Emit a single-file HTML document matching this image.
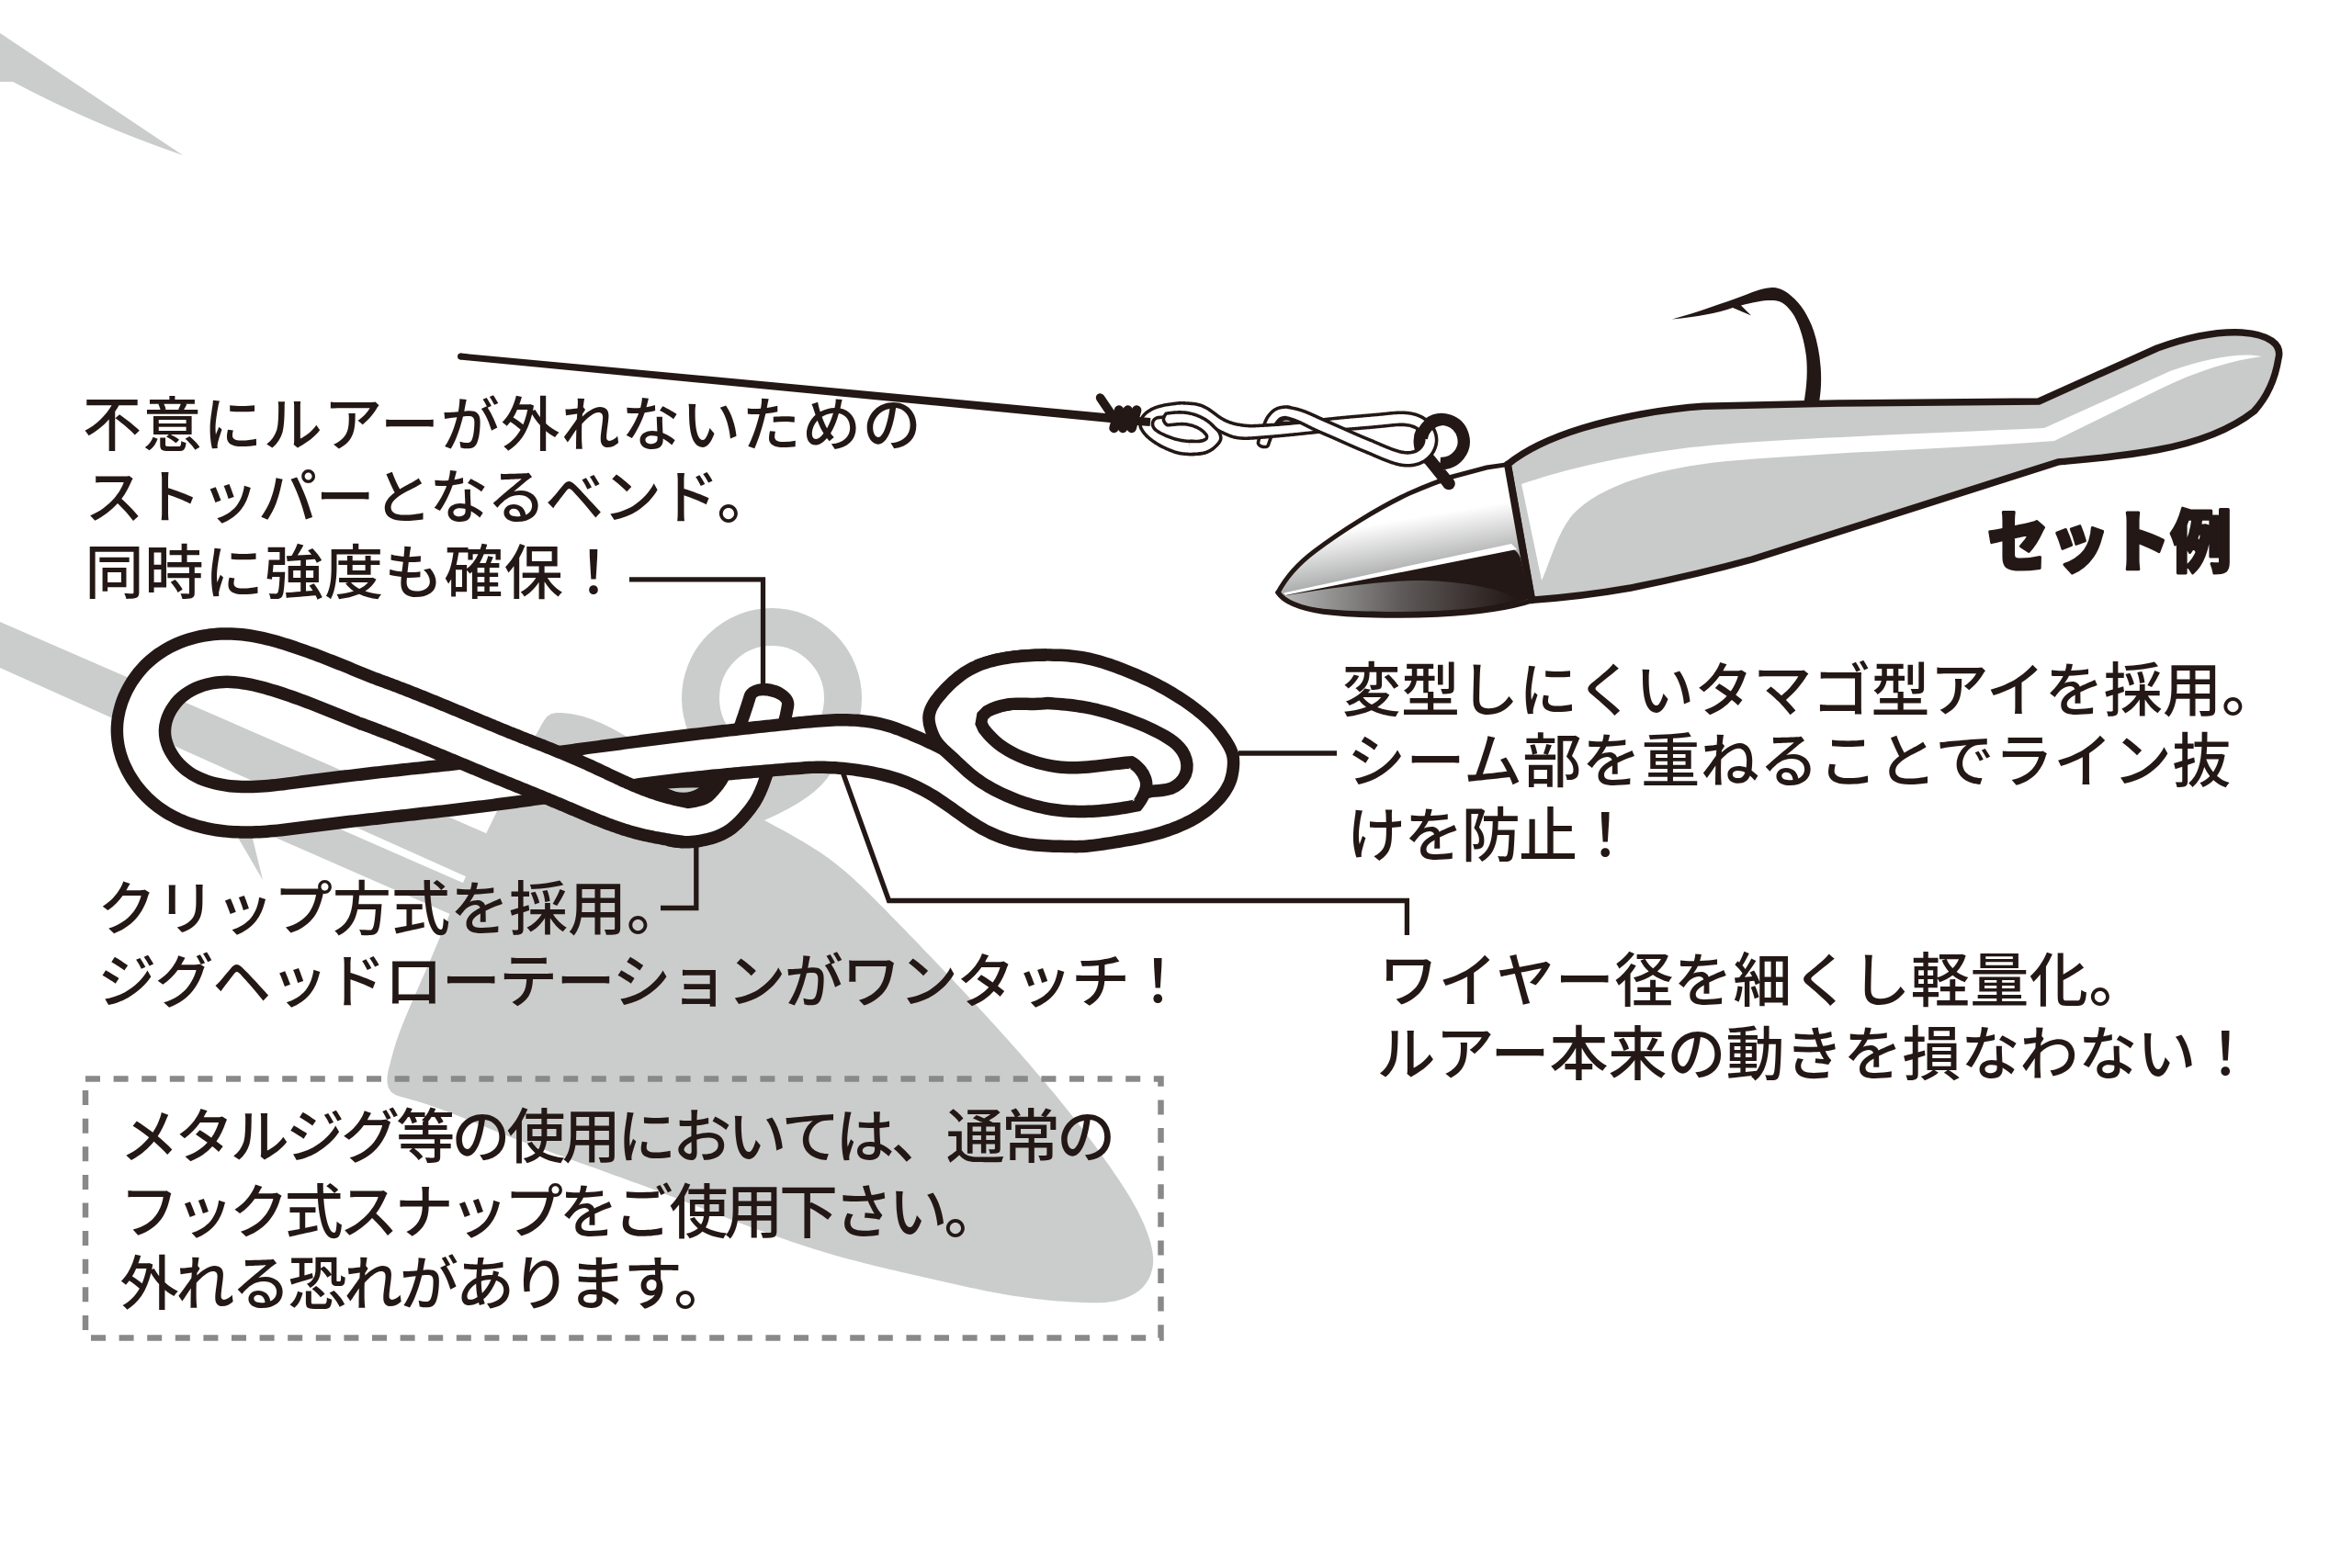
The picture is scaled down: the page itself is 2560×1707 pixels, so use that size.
<!DOCTYPE html>
<html lang="ja"><head><meta charset="utf-8"><title>snap</title><style>html,body{margin:0;padding:0;background:#fff;overflow:hidden}svg{display:block}</style></head><body><svg width="2560" height="1707" viewBox="0 0 2560 1707">
<rect width="2560" height="1707" fill="#fff"/>
<path d="M0 36 L199 169 Q100 135 14 89 L0 89Z" fill="#cbcdcd"/>
<path d="M0 677 L545 914 L520 960 L0 727Z" fill="#cbcdcd"/>
<path d="M250 850 L520 968 L492 996 L250 890Z" fill="#cbcdcd"/>
<path d="M255 905 L273 905 L286 958Z" fill="#cbcdcd"/>
<path d="M611 776L616.9 776.5L622.7 777.3L628.4 778.4L633.9 779.8L639.4 781.4L644.7 783.3L649.9 785.4L655.1 787.6L660.2 790L665.3 792.6L670.3 795.2L675.3 797.9L680.2 800.7L685.1 803.5L690 806.3L694.9 809.1L699.8 812L704.6 814.9L709.5 817.8L714.3 820.7L719.1 823.7L723.9 826.7L728.7 829.6L733.5 832.6L738.3 835.6L743.1 838.6L747.9 841.7L752.7 844.7L757.4 847.7L762.2 850.7L767 853.7L771.8 856.8L776.5 859.8L781.3 862.8L786.1 865.8L790.9 868.7L795.7 871.7L800.6 874.6L805.4 877.5L810.3 880.4L815.2 883.3L820.1 886.1L825 888.9L829.9 891.7L834.9 894.4L839.9 897.2L844.8 899.9L849.8 902.6L854.8 905.3L859.8 908.1L864.7 910.9L869.6 913.7L874.5 916.5L879.3 919.4L884.1 922.4L888.9 925.4L893.6 928.5L898.2 931.7L902.8 935L907.3 938.4L911.7 941.9L916 945.5L920.4 949.1L924.6 952.8L928.8 956.6L933 960.4L937.1 964.3L941.2 968.2L945.3 972.2L949.3 976.2L953.3 980.2L957.3 984.2L961.3 988.3L965.3 992.3L969.3 996.4L973.2 1000.4L977.2 1004.5L981.1 1008.5L985.1 1012.6L989 1016.7L993 1020.7L996.9 1024.8L1000.8 1028.8L1004.7 1032.9L1008.6 1037L1012.5 1041.1L1016.4 1045.1L1020.3 1049.2L1024.2 1053.3L1028.1 1057.4L1032 1061.5L1035.9 1065.6L1039.7 1069.7L1043.6 1073.8L1047.5 1078L1051.3 1082.1L1055.2 1086.2L1059 1090.4L1062.9 1094.5L1066.7 1098.7L1070.5 1102.8L1074.4 1107L1078.2 1111.2L1082 1115.3L1085.8 1119.5L1089.6 1123.7L1093.3 1127.9L1097.1 1132.1L1100.9 1136.4L1104.6 1140.6L1108.4 1144.8L1112.1 1149.1L1115.8 1153.3L1119.6 1157.6L1123.3 1161.9L1126.9 1166.2L1130.6 1170.5L1134.3 1174.8L1137.9 1179.1L1141.5 1183.4L1145.2 1187.8L1148.8 1192.1L1152.3 1196.5L1155.9 1200.9L1159.4 1205.3L1163 1209.7L1166.5 1214.1L1170 1218.6L1173.4 1223L1176.9 1227.5L1180.3 1232L1183.7 1236.5L1187.1 1241L1190.5 1245.6L1193.8 1250.1L1197.1 1254.7L1200.4 1259.3L1203.7 1263.9L1207 1268.5L1210.2 1273.2L1213.4 1277.9L1216.6 1282.5L1219.7 1287.3L1222.8 1292L1225.8 1296.8L1228.8 1301.6L1231.7 1306.5L1234.5 1311.4L1237.2 1316.3L1239.8 1321.4L1242.2 1326.4L1244.6 1331.6L1246.8 1336.8L1248.8 1342.1L1250.6 1347.5L1252.3 1352.9L1253.6 1358.4L1254.6 1364L1255.1 1369.7L1255.1 1375.4L1254.3 1381L1252.8 1386.6L1250.5 1391.9L1247.6 1396.8L1244.1 1401.2L1239.9 1405.1L1235.2 1408.3L1230.1 1411.1L1224.8 1413.3L1219.4 1415.1L1213.9 1416.4L1208.3 1417.3L1202.7 1417.9L1197 1418.2L1191.3 1418.3L1185.6 1418.2L1179.9 1418L1174.2 1417.8L1168.5 1417.5L1162.8 1417.2L1157.2 1416.8L1151.5 1416.4L1145.9 1415.9L1140.3 1415.4L1134.7 1414.8L1129 1414.2L1123.5 1413.6L1117.9 1412.8L1112.3 1412.1L1106.7 1411.3L1101.1 1410.4L1095.6 1409.5L1090 1408.5L1084.5 1407.5L1078.9 1406.4L1073.4 1405.4L1067.8 1404.2L1062.3 1403.1L1056.8 1401.9L1051.2 1400.7L1045.7 1399.5L1040.2 1398.3L1034.7 1397L1029.1 1395.8L1023.6 1394.5L1018.1 1393.2L1012.6 1392L1007 1390.7L1001.5 1389.5L996 1388.2L990.5 1387L985 1385.7L979.4 1384.4L973.9 1383.1L968.4 1381.9L962.9 1380.5L957.4 1379.2L951.9 1377.9L946.4 1376.5L940.9 1375.2L935.5 1373.8L930 1372.3L924.6 1370.9L919.1 1369.4L913.7 1367.9L908.2 1366.4L902.8 1364.8L897.4 1363.2L892 1361.6L886.7 1359.9L881.3 1358.2L875.9 1356.5L870.6 1354.8L865.2 1353L859.9 1351.2L854.6 1349.3L849.3 1347.5L843.9 1345.6L838.6 1343.7L833.3 1341.8L828 1339.8L822.8 1337.9L817.5 1335.9L812.2 1333.9L806.9 1331.9L801.6 1329.9L796.3 1327.9L791.1 1325.8L785.8 1323.8L780.5 1321.7L775.2 1319.7L770 1317.6L764.7 1315.6L759.4 1313.5L754.1 1311.4L748.8 1309.4L743.5 1307.3L738.2 1305.3L732.9 1303.2L727.6 1301.2L722.3 1299.1L717 1297.1L711.7 1295.1L706.3 1293.1L701 1291.1L695.6 1289.1L690.3 1287.2L684.9 1285.2L679.5 1283.3L674.2 1281.3L668.8 1279.4L663.5 1277.4L658.1 1275.5L652.7 1273.6L647.4 1271.6L642 1269.7L636.6 1267.8L631.3 1265.9L626 1263.9L620.6 1262L615.3 1260.1L610 1258.1L604.6 1256.2L599.3 1254.3L594 1252.3L588.8 1250.4L583.5 1248.4L578.2 1246.4L573 1244.4L567.8 1242.5L562.5 1240.5L557.3 1238.5L552.2 1236.4L547 1234.4L541.9 1232.4L536.7 1230.3L531.6 1228.2L526.6 1226.1L521.5 1224.1L516.4 1222L511.3 1219.9L506.2 1217.8L501.1 1215.7L496 1213.7L490.8 1211.7L485.5 1209.7L480.3 1207.7L474.9 1205.8L469.5 1203.9L464.1 1202.1L458.5 1200.3L452.9 1198.6L447.1 1196.9L441.3 1195.3L435.4 1193.8L430 1191.8L425.5 1188.6L422.7 1183.9L421.5 1178.2L421.5 1172.4L422.3 1166.8L423.7 1161.3L425.1 1155.8L426.5 1150.4L428 1144.9L429.6 1139.5L431.3 1134.1L433.1 1128.8L435 1123.4L437 1118.2L439.1 1112.9L441.2 1107.7L443.4 1102.4L445.6 1097.2L447.9 1092L450.2 1086.9L452.4 1081.7L454.7 1076.5L457 1071.3L459.2 1066.1L461.5 1061L463.8 1055.8L466 1050.6L468.3 1045.4L470.5 1040.2L472.7 1035L474.9 1029.8L477.1 1024.6L479.3 1019.4L481.5 1014.2L483.6 1009L485.8 1003.7L488 998.5L490.2 993.3L492.4 988.1L494.5 982.9L496.8 977.7L499 972.5L501.2 967.3L503.5 962.1L505.8 957L508.1 951.8L510.4 946.7L512.8 941.5L515.1 936.4L517.5 931.3L520 926.2L522.4 921.1L524.8 916L527.3 911L529.8 905.9L532.3 900.8L534.8 895.7L537.3 890.6L539.8 885.5L542.3 880.4L544.8 875.3L547.3 870.2L549.8 865.1L552.3 860L554.9 854.9L557.4 849.9L559.9 844.8L562.5 839.8L565 834.8L567.5 829.8L570.1 824.8L572.6 819.9L575.2 815L577.8 810.1L580.5 805.2L583.2 800.2L586 795.2L588.8 790.1L591.8 784.9L595.2 780.3L599.6 777.2L605 776L611 776Z" fill="#cbcdcd"/>
<circle cx="840" cy="760" r="77.5" fill="none" stroke="#cbcdcd" stroke-width="41"/>
<path d="M790 840 L905 840 Q890 868 832 893 L790 880Z" fill="#cbcdcd"/>
<path d="M685 630.8 H830.5 V760" fill="none" stroke="#231815" stroke-width="5.3"/>
<path d="M1348 820 H1455" fill="none" stroke="#231815" stroke-width="5.3"/>
<path d="M917 840 L967.5 980.5 H1531.4 V1018" fill="none" stroke="#231815" stroke-width="5.3"/>
<path d="M757.8 915 V988.5 H719" fill="none" stroke="#231815" stroke-width="5.3"/>
<g id="snap"><path d="M724.9 920.8L726.4 921.2L728.4 921.7L730.3 922L732.2 922.4L734.1 922.7L736 922.9L737.9 923.1L739.7 923.3L741.6 923.4L743.4 923.5L745.2 923.5L747 923.5L748.7 923.5L750.5 923.4L752.2 923.3L753.9 923.2L755.6 923L757.2 922.9L758.8 922.6L760.5 922.4L762 922.2L763.6 921.9L765.2 921.6L766.7 921.3L768.2 921L769.7 920.7L771.1 920.3L772.6 920L774.1 919.6L775.6 919.2L777.2 918.7L778.7 918.2L780.4 917.7L782 917.1L783.7 916.5L785.5 915.8L787.2 915L789 914.2L790.8 913.3L792.6 912.3L794.4 911.3L796.2 910.2L797.9 909.1L799.5 907.9L801.1 906.7L802.5 905.5L804 904.3L805.3 903.1L806.6 901.9L807.9 900.8L809.1 899.6L810.2 898.4L811.3 897.2L812.4 896.1L813.4 895L814.3 893.9L815.3 892.8L816.2 891.8L817 890.7L817.9 889.7L818.8 888.6L819.7 887.5L820.6 886.3L821.5 885.2L822.4 884L823.3 882.7L824.2 881.5L825.2 880.1L826.1 878.8L827 877.4L827.9 876L828.7 874.5L829.6 873L830.4 871.5L831.2 870L831.9 868.6L832.6 867.1L833.3 865.7L833.9 864.2L834.5 862.8L835.1 861.5L835.7 860.1L836.2 858.8L836.7 857.4L837.2 856.2L837.6 854.9L838.1 853.7L838.5 852.4L839 851.3L839.4 850.1L839.8 848.9L840.2 847.7L840.6 846.6L841 845.4L841.4 844.3L841.9 843.1L842.3 842L842.7 840.8L843.1 839.7L843.5 838.6L843.8 837.4L844.2 836.3L844.6 835.2L845 834.1L845.4 832.9L845.8 831.8L846.2 830.7L846.6 829.6L847 828.5L847.3 827.4L847.7 826.3L848.1 825.2L848.5 824.2L848.9 823.1L849.2 822L849.6 820.9L850 819.8L850.4 818.8L850.7 817.7L851.1 816.6L851.5 815.5L851.9 814.4L852.3 813.3L852.6 812.2L853 811L853.4 809.9L853.8 808.8L854.2 807.7L854.5 806.5L854.9 805.4L855.3 804.2L855.7 803.1L856 801.9L856.4 800.7L856.8 799.6L857.1 798.4L857.5 797.2L857.9 796L858.2 794.8L858.6 793.6L858.9 792.4L859.3 791.2L859.6 790L859.9 788.8L860.3 787.5L860.6 786.3L860.9 785L861.2 783.8L861.5 782.5L861.8 781.3L862.1 780L862.4 778.7L862.7 777.4L862.9 776.1L863.2 774.8L863.4 773.5L863.7 772.2L863.9 770.9L864.1 769.7L864.4 767.1L864.2 764.4L863.5 761.8L862.3 759.1L860.6 756.6L858.5 754.2L856 751.9L853.1 749.9L849.9 748.1L846.5 746.6L842.8 745.4L839.1 744.6L835.3 744.1L831.6 744L828 744.2L824.5 744.8L821.2 745.7L818.3 747L815.6 748.6L813.4 750.5L811.6 752.6L810.3 754.9L809.5 757.3L809.2 758.4L808.9 759.3L808.6 760.3L808.3 761.3L808 762.3L807.6 763.3L807.3 764.3L807 765.2L806.7 766.2L806.4 767.2L806 768.2L805.7 769.2L805.4 770.3L805 771.3L804.7 772.3L804.4 773.3L804 774.3L803.7 775.4L803.3 776.4L803 777.4L802.6 778.5L802.3 779.5L801.9 780.6L801.5 781.6L801.2 782.7L800.8 783.8L800.5 784.8L800.1 785.9L799.7 787L799.4 788.1L799 789.1L798.6 790.2L798.3 791.3L797.9 792.4L797.5 793.5L797.2 794.7L796.8 795.8L796.4 796.9L796 798L795.7 799.1L795.3 800.3L794.9 801.4L794.6 802.6L794.2 803.7L793.8 804.9L793.5 806L793.1 807.1L792.8 808.3L792.4 809.4L792.1 810.5L791.7 811.7L791.4 812.8L791 813.9L790.7 815L790.4 816.1L790 817.2L789.7 818.4L789.3 819.5L789 820.5L788.7 821.6L788.3 822.7L788 823.8L787.6 824.9L787.3 826L786.9 827L786.6 828.1L786.3 829.2L785.9 830.2L785.5 831.3L785.2 832.3L784.8 833.4L784.5 834.4L784.1 835.4L783.8 836.3L783.4 837.2L783.1 838.1L782.8 839L782.4 839.8L782.1 840.6L781.8 841.3L781.4 842.1L781.1 842.7L780.8 843.4L780.5 844L780.2 844.6L779.9 845.1L779.6 845.7L779.3 846.2L778.9 846.8L778.5 847.3L778.1 847.9L777.7 848.5L777.3 849.2L776.8 849.8L776.3 850.5L775.7 851.2L775.2 851.9L774.6 852.6L774 853.4L773.3 854.1L772.7 854.9L772 855.7L771.4 856.4L770.8 857.1L770.2 857.7L769.6 858.3L769.1 858.9L768.6 859.4L768.1 859.9L767.6 860.4L767.2 860.8L766.8 861.1L766.4 861.4L766.1 861.7L765.8 861.9L765.5 862.1L765.3 862.3L765.1 862.4L764.9 862.5L764.6 862.7L764.3 862.8L764 863L763.6 863.1L763.1 863.3L762.6 863.5L762.1 863.7L761.4 863.9L760.8 864.1L760 864.3L759.3 864.5L758.5 864.8L757.6 865L756.8 865.2L755.9 865.4L755.1 865.5L754.3 865.7L753.6 865.9L752.8 866L752.1 866.1L751.4 866.2L750.7 866.3L750 866.4L749.3 866.4L748.7 866.5L748.1 866.5L747.5 866.5L746.9 866.5L746.4 866.5L745.8 866.4L745.3 866.4L744.8 866.3L744.4 866.2L743.9 866.1L743.5 866L743 865.9L742.6 865.8L742.3 865.6L741.9 865.5L741.1 865.2Z" fill="#231815"/>
<path d="M728.7 907.9L730 908.2L731.6 908.6L733.2 908.9L734.8 909.1L736.3 909.4L737.9 909.5L739.4 909.7L740.9 909.8L742.4 909.9L744 910L745.5 910L746.9 910L748.4 910L749.9 909.9L751.4 909.8L752.8 909.7L754.2 909.6L755.7 909.4L757.1 909.3L758.5 909.1L759.9 908.9L761.2 908.6L762.6 908.4L763.9 908.1L765.3 907.8L766.6 907.5L767.9 907.2L769.2 906.9L770.6 906.6L771.9 906.2L773.3 905.8L774.6 905.4L776 904.9L777.4 904.4L778.9 903.9L780.3 903.3L781.7 902.7L783.1 902L784.6 901.3L786 900.5L787.5 899.7L788.9 898.8L790.2 897.9L791.5 897L792.8 896.1L794 895.1L795.2 894.1L796.3 893.1L797.4 892.1L798.5 891.1L799.5 890.1L800.5 889.1L801.4 888L802.4 887L803.3 886L804.2 885L805 884L805.9 883L806.7 882.1L807.5 881.1L808.3 880.1L809.2 879L810 878L810.8 877L811.6 875.9L812.4 874.8L813.2 873.7L814 872.5L814.8 871.3L815.6 870.2L816.3 868.9L817.1 867.7L817.8 866.4L818.5 865.1L819.2 863.9L819.8 862.6L820.4 861.3L821 860.1L821.6 858.8L822.1 857.6L822.6 856.3L823.1 855.1L823.6 853.9L824.1 852.7L824.5 851.5L825 850.3L825.4 849.1L825.8 847.9L826.2 846.8L826.6 845.6L827 844.5L827.4 843.3L827.9 842.2L828.3 841.1L828.7 839.9L829.1 838.8L829.5 837.7L829.8 836.6L830.2 835.4L830.6 834.3L831 833.2L831.4 832.1L831.8 831L832.2 829.9L832.6 828.7L833 827.6L833.4 826.5L833.7 825.4L834.1 824.3L834.5 823.2L834.9 822.1L835.3 821L835.7 819.9L836 818.8L836.4 817.7L836.8 816.6L837.2 815.6L837.6 814.5L837.9 813.4L838.3 812.3L838.7 811.2L839.1 810.1L839.5 809L839.8 807.8L840.2 806.7L840.6 805.6L841 804.5L841.4 803.4L841.7 802.2L842.1 801.1L842.5 800L842.9 798.8L843.2 797.7L843.6 796.6L843.9 795.4L844.3 794.3L844.6 793.1L845 791.9L845.3 790.8L845.7 789.6L846 788.4L846.4 787.3L846.7 786.1L847 784.9L847.3 783.7L847.6 782.5L847.9 781.3L848.2 780.1L848.5 778.9L848.8 777.7L849.1 776.5L849.3 775.3L849.6 774.1L849.8 772.8L850.1 771.6L850.3 770.4L850.5 769.1L850.7 767.9L850.9 766.7L851 765.9L850.7 765.1L850.3 764.3L849.5 763.4L848.5 762.6L847.3 761.8L845.9 761L844.4 760.2L842.7 759.5L840.9 758.9L839 758.4L837 757.9L835.1 757.6L833.2 757.4L831.4 757.3L829.6 757.3L828 757.4L826.6 757.6L825.3 758L824.3 758.4L823.5 759L823 759.6L822.7 760.3L822.3 761.4L822 762.4L821.7 763.5L821.4 764.5L821 765.6L820.7 766.6L820.4 767.7L820.1 768.7L819.7 769.8L819.4 770.8L819 771.9L818.7 773L818.3 774L818 775.1L817.6 776.1L817.3 777.2L816.9 778.3L816.6 779.3L816.2 780.4L815.8 781.5L815.5 782.6L815.1 783.6L814.7 784.7L814.4 785.8L814 786.9L813.6 788L813.3 789.1L812.9 790.1L812.5 791.2L812.2 792.3L811.8 793.4L811.4 794.5L811.1 795.6L810.7 796.8L810.3 797.9L809.9 799L809.6 800.1L809.2 801.2L808.8 802.3L808.5 803.5L808.1 804.6L807.7 805.7L807.4 806.8L807 808L806.7 809.1L806.3 810.2L806 811.4L805.6 812.5L805.3 813.6L804.9 814.7L804.6 815.9L804.2 817L803.9 818.1L803.5 819.2L803.2 820.3L802.9 821.5L802.5 822.6L802.2 823.7L801.8 824.8L801.5 825.9L801.1 827L800.8 828.1L800.4 829.2L800.1 830.3L799.7 831.4L799.4 832.5L799 833.6L798.7 834.7L798.3 835.7L797.9 836.8L797.5 837.9L797.2 839L796.8 840L796.4 841L796.1 842L795.7 843L795.3 844L794.9 844.9L794.5 845.9L794.1 846.8L793.7 847.7L793.3 848.5L792.9 849.4L792.5 850.2L792.1 851L791.7 851.7L791.2 852.5L790.8 853.3L790.3 854L789.8 854.8L789.3 855.5L788.7 856.3L788.2 857.1L787.6 857.9L787 858.7L786.4 859.5L785.7 860.3L785.1 861.1L784.4 862L783.7 862.8L783 863.6L782.3 864.5L781.6 865.3L780.9 866.1L780.2 866.8L779.5 867.6L778.8 868.3L778.2 869L777.5 869.6L776.9 870.2L776.2 870.8L775.6 871.4L775 871.9L774.4 872.4L773.8 872.8L773.2 873.3L772.6 873.6L772 874L771.4 874.3L770.8 874.7L770.2 875L769.5 875.3L768.8 875.6L768 875.9L767.2 876.2L766.4 876.5L765.5 876.8L764.6 877L763.7 877.3L762.8 877.6L761.8 877.8L760.8 878.1L759.8 878.3L758.8 878.6L757.9 878.8L756.9 879L755.9 879.1L755 879.3L754.1 879.5L753.1 879.6L752.2 879.7L751.3 879.8L750.4 879.9L749.5 879.9L748.6 880L747.8 880L746.9 880L746.1 880L745.3 879.9L744.4 879.9L743.6 879.8L742.8 879.7L742 879.5L741.3 879.4L740.5 879.2L739.7 879L739 878.7L738.3 878.5L737.3 878.1Z" fill="#fff"/>
<path d="M416.1 734.4L412.3 732.9L408.6 731.4L404.9 729.9L401.2 728.4L397.5 726.9L393.7 725.4L390 723.9L386.3 722.4L382.6 720.8L378.9 719.3L375.1 717.8L371.4 716.3L367.7 714.8L364 713.3L360.2 711.9L356.5 710.4L352.7 709L349 707.5L345.2 706.1L341.5 704.7L337.7 703.4L333.9 702L330.1 700.7L326.3 699.4L322.5 698.1L318.7 696.8L314.9 695.6L311 694.4L307.2 693.3L303.4 692.1L299.5 691.1L295.6 690L291.7 689.1L287.8 688.1L283.9 687.3L279.9 686.5L276 685.8L272 685.1L268.1 684.6L264.1 684.1L260.1 683.7L256.1 683.4L252.1 683.2L248 683.2L244 683.2L240 683.3L236 683.5L232 683.9L228 684.3L224 684.9L220.1 685.5L216.1 686.3L212.2 687.2L208.3 688.2L204.5 689.3L200.6 690.5L196.9 691.8L193.1 693.3L189.4 694.8L185.8 696.5L182.2 698.3L178.6 700.2L175.2 702.2L171.8 704.4L168.5 706.6L165.2 709L162.1 711.5L159 714.1L156 716.8L153.1 719.6L150.4 722.5L147.7 725.5L145.1 728.5L142.7 731.7L140.3 735L138.1 738.3L136 741.7L134 745.2L132.1 748.8L130.3 752.4L128.7 756.1L127.2 759.8L125.9 763.6L124.7 767.4L123.7 771.3L122.7 775.2L122 779.1L121.4 783.1L121 787.1L120.7 791.1L120.6 795.1L120.7 799.1L121 803.1L121.4 807.1L122 811.1L122.7 815L123.6 819L124.7 822.8L125.9 826.7L127.3 830.4L128.7 834.2L130.4 837.8L132.1 841.4L134 845L136 848.5L138.1 851.9L140.4 855.2L142.7 858.5L145.2 861.7L147.7 864.8L150.3 867.8L153.1 870.7L155.9 873.6L158.8 876.3L161.9 879L165 881.5L168.1 884L171.4 886.3L174.7 888.6L178.1 890.7L181.6 892.7L185.1 894.6L188.7 896.5L192.3 898.2L196 899.8L199.7 901.3L203.5 902.7L207.3 904L211.1 905.2L215 906.3L218.9 907.3L222.8 908.2L226.7 909L230.7 909.7L234.6 910.4L238.6 910.9L242.6 911.4L246.6 911.8L250.6 912.2L254.6 912.4L258.6 912.6L262.6 912.8L266.6 912.8L270.6 912.8L274.7 912.7L278.7 912.6L282.7 912.4L286.7 912.2L290.7 911.9L294.7 911.6L298.7 911.2L302.7 910.8L306.7 910.4L310.7 910L314.7 909.5L318.6 909L322.6 908.5L326.6 908L330.6 907.4L334.6 906.9L338.6 906.4L342.5 905.9L346.5 905.4L350.5 904.9L354.5 904.4L358.5 903.9L362.5 903.4L366.4 902.9L370.4 902.5L374.4 902L378.4 901.5L382.4 901.1L386.4 900.6L390.4 900.1L394.4 899.7L398.3 899.2L402.3 898.8L406.3 898.3L410.3 897.9L414.3 897.4L418.3 897L422.3 896.5L426.3 896.1L430.3 895.6L434.3 895.2L438.2 894.7L442.2 894.3L446.2 893.8L450.2 893.4L454.2 893L458.2 892.5L462.2 892.1L466.2 891.6L470.2 891.2L474.2 890.7L478.1 890.2L482.1 889.8L486.1 889.3L490.1 888.9L494.1 888.4L498.1 887.9L502.1 887.5L506.1 887L510 886.5L514 886L518 885.5L522 885L526 884.6L530 884.1L534 883.6L537.9 883L541.9 882.5L545.9 882L549.9 881.5L553.9 881L557.8 880.4L561.8 879.9L565.8 879.3L569.8 878.8L573.8 878.2L577.7 877.7L581.7 877.1L585.7 876.5L589.7 876L593.6 875.4L597.6 874.8L601.6 874.3L605.5 873.7L609.5 873.1L613.5 872.5L617.5 871.9L621.4 871.3L625.4 870.8L629.4 870.2L633.4 869.6L637.3 869L641.3 868.4L645.3 867.8L649.2 867.3L653.2 866.7L657.2 866.1L661.2 865.5L665.1 864.9L669.1 864.4L673.1 863.8L677.1 863.2L681 862.7L685 862.1L689 861.6L693 861L696.9 860.5L700.9 859.9L704.9 859.4L708.9 858.9L712.9 858.4L716.8 857.9L720.8 857.4L724.8 856.9L728.8 856.4L732.8 855.9L736.8 855.4L740.8 854.9L744.7 854.5L748.7 854L752.7 853.6L756.7 853.2L760.7 852.7L764.7 852.3L768.7 851.9L772.7 851.5L776.7 851.1L780.7 850.7L784.7 850.3L788.7 849.9L792.7 849.5L796.7 849.2L800.7 848.8L804.7 848.4L808.7 848.1L812.7 847.7L816.7 847.4L820.7 847L824.7 846.7L828.7 846.4L832.7 846L836.7 845.7L840.7 845.4L844.7 845L848.7 844.7L852.7 844.4L856.7 844.1L860.7 843.8L864.7 843.5L868.7 843.2L872.7 842.9L876.7 842.6L880.7 842.3L884.7 842.1L888.7 842L892.7 842L896.8 842.1L900.8 842.2L904.8 842.4L908.8 842.6L912.8 842.9L916.8 843.2L920.8 843.7L924.9 844.1L928.9 844.6L932.8 845.2L936.8 845.8L940.8 846.4L944.8 847.1L948.8 847.8L952.7 848.6L956.6 849.5L960.5 850.4L964.4 851.4L968.3 852.4L972.1 853.6L976 854.8L979.7 856.2L983.5 857.6L987.2 859.1L990.9 860.7L994.5 862.4L998.1 864.2L1001.7 866.1L1005.3 868L1008.8 870L1012.2 872.1L1015.6 874.2L1019 876.4L1022.3 878.7L1025.6 880.9L1028.9 883.3L1032.2 885.6L1035.5 887.9L1038.7 890.3L1042 892.6L1045.3 894.9L1048.6 897.2L1051.9 899.5L1055.2 901.7L1058.6 903.8L1062.1 905.9L1065.5 907.9L1069.1 909.8L1072.6 911.6L1076.3 913.4L1079.9 915L1083.7 916.6L1087.4 918L1091.2 919.3L1095 920.6L1098.9 921.7L1102.8 922.7L1106.7 923.6L1110.6 924.4L1114.6 925.1L1118.6 925.7L1122.5 926.2L1126.5 926.7L1130.5 927L1134.5 927.3L1138.6 927.5L1142.6 927.7L1146.6 927.9L1150.6 928L1154.7 928.1L1158.7 928.2L1162.7 928.3L1166.7 928.3L1170.7 928.4L1174.7 928.3L1178.8 928.2L1182.8 927.9L1186.7 927.6L1190.7 927.1L1194.7 926.6L1198.7 926.1L1202.7 925.5L1206.7 924.8L1210.6 924.2L1214.6 923.6L1218.6 922.9L1222.5 922.3L1226.5 921.6L1230.4 920.9L1234.4 920.2L1238.3 919.5L1242.3 918.7L1246.2 917.8L1250.1 917L1254 916L1257.9 915L1261.8 914L1265.7 912.9L1269.5 911.7L1273.3 910.4L1277.1 909.1L1280.9 907.7L1284.6 906.2L1288.3 904.6L1292 902.9L1295.6 901.2L1299.2 899.4L1302.7 897.4L1306.2 895.4L1309.6 893.2L1312.9 891L1316.2 888.7L1319.4 886.2L1322.5 883.6L1325.5 880.9L1328.4 878.1L1331.1 875.2L1333.8 872.2L1336.3 869L1338.7 865.7L1340.8 862.3L1342.8 858.8L1344.5 855.1L1345.9 851.4L1347.1 847.5L1347.9 843.6L1348.6 839.6L1349 835.6L1349.3 831.6L1349.2 827.5L1348.9 823.5L1348.1 819.6L1346.8 815.8L1345.2 812.1L1343.4 808.5L1341.3 805L1339.1 801.6L1336.8 798.3L1334.5 795L1332 791.8L1329.5 788.7L1326.8 785.7L1324.1 782.8L1321.2 780L1318.3 777.2L1315.3 774.5L1312.3 771.9L1309.1 769.4L1306 766.9L1302.7 764.5L1299.5 762.1L1296.2 759.8L1292.9 757.5L1289.6 755.2L1286.2 753L1282.8 750.9L1279.4 748.8L1275.9 746.8L1272.5 744.8L1269 742.8L1265.4 740.9L1261.9 739.1L1258.3 737.3L1254.7 735.5L1251.1 733.8L1247.4 732.1L1243.7 730.4L1240.1 728.8L1236.4 727.2L1232.6 725.7L1228.9 724.2L1225.2 722.7L1221.4 721.3L1217.6 719.8L1213.8 718.5L1210 717.1L1206.2 715.9L1202.4 714.7L1198.5 713.5L1194.6 712.5L1190.7 711.5L1186.8 710.6L1182.9 709.7L1179 709L1175 708.4L1171 707.9L1167.1 707.4L1163.1 707.1L1159 706.8L1155 706.6L1151 706.5L1147 706.4L1142.9 706.3L1138.9 706.3L1134.9 706.3L1130.8 706.4L1126.8 706.5L1122.8 706.7L1118.8 706.9L1114.8 707.2L1110.7 707.5L1106.8 707.9L1102.8 708.3L1098.8 708.9L1094.8 709.5L1090.9 710.2L1087 710.9L1083 711.8L1079.2 712.8L1075.3 713.8L1071.4 714.9L1067.6 716.2L1063.8 717.5L1060 719L1080 779L1083.7 777.5L1087.5 776.2L1091.4 775.1L1095.3 774.2L1099.2 773.4L1103.2 772.8L1107.1 772.4L1111.1 772L1115.2 771.8L1119.2 771.7L1123.3 771.7L1127.3 771.8L1131.4 771.9L1135.5 772.1L1139.5 772.3L1143.6 772.6L1147.6 772.8L1151.6 773.1L1155.6 773.5L1159.6 773.8L1163.6 774.3L1167.6 774.7L1171.6 775.3L1175.5 775.9L1179.5 776.5L1183.4 777.3L1187.4 778.1L1191.3 779L1195.2 779.9L1199.1 781L1202.9 782.1L1206.8 783.2L1210.6 784.4L1214.5 785.7L1218.3 787L1222 788.3L1225.8 789.7L1229.5 791.1L1233.3 792.5L1237 794L1240.7 795.5L1244.3 797.1L1248 798.8L1251.6 800.5L1255.2 802.3L1258.8 804.1L1262.4 806.1L1266 808.2L1269.5 810.4L1272.9 812.7L1276 815.3L1278.8 818.2L1281.3 821.4L1283.2 825L1284.6 828.8L1285.2 832.9L1285.1 837L1284 840.9L1282 844.5L1279.3 847.6L1276 850.1L1272.4 851.9L1268.6 852.9L1264.6 853.6L1260.5 853.9L1256.4 854.2L1252.4 854.7L1248.4 855.5L1244.5 856.4L1240.6 857.6L1236.8 858.8L1233 860.1L1229.2 861.3L1225.3 862.5L1221.5 863.6L1217.6 864.5L1213.7 865.3L1209.7 865.8L1205.7 866.2L1201.7 866.5L1197.7 866.6L1193.6 866.6L1189.6 866.5L1185.5 866.3L1181.5 866.1L1177.4 865.8L1173.4 865.5L1169.3 865.1L1165.3 864.6L1161.3 864.2L1157.4 863.6L1153.4 863L1149.4 862.3L1145.5 861.6L1141.6 860.8L1137.6 859.9L1133.8 859L1129.9 858L1126 856.9L1122.2 855.7L1118.3 854.5L1114.5 853.2L1110.7 851.8L1107 850.4L1103.2 848.9L1099.5 847.4L1095.8 845.7L1092.2 844.1L1088.5 842.3L1084.9 840.5L1081.3 838.7L1077.8 836.8L1074.3 834.9L1070.8 832.9L1067.3 830.9L1063.8 828.9L1060.3 826.8L1056.9 824.8L1053.4 822.7L1050 820.7L1046.5 818.7L1043 816.7L1039.5 814.7L1036 812.8L1032.4 811L1028.9 809.1L1025.3 807.3L1021.7 805.6L1018.1 803.8L1014.4 802.1L1010.8 800.4L1007.1 798.8L1003.4 797.1L999.7 795.5L996 793.9L992.3 792.4L988.5 790.8L984.8 789.4L981 788L977.2 786.6L973.4 785.3L969.6 784.1L965.7 783L961.9 782L958 781L954.1 780.2L950.1 779.5L946.2 778.9L942.2 778.4L938.2 777.9L934.2 777.6L930.2 777.4L926.2 777.2L922.2 777.1L918.1 777L914.1 777.1L910 777.1L906 777.3L901.9 777.5L897.9 777.7L893.8 778L889.8 778.3L885.7 778.6L881.7 778.9L877.7 779.3L873.7 779.7L869.7 780.1L865.7 780.5L861.7 780.9L857.7 781.3L853.7 781.7L849.7 782.2L845.7 782.6L841.7 783L837.7 783.4L833.7 783.8L829.7 784.3L825.7 784.7L821.7 785.1L817.7 785.5L813.7 786L809.7 786.4L805.8 786.9L801.8 787.3L797.8 787.8L793.8 788.2L789.8 788.7L785.8 789.1L781.8 789.6L777.8 790L773.8 790.5L769.8 790.9L765.8 791.4L761.9 791.9L757.9 792.4L753.9 792.8L749.9 793.3L745.9 793.8L741.9 794.3L737.9 794.8L734 795.3L730 795.8L726 796.3L722 796.8L718 797.3L714 797.8L710 798.3L706.1 798.8L702.1 799.3L698.1 799.8L694.1 800.4L690.1 800.9L686.1 801.4L682.2 801.9L678.2 802.5L674.2 803L670.2 803.5L666.2 804L662.3 804.6L658.3 805.1L654.3 805.6L650.3 806.2L646.3 806.7L642.4 807.2L638.4 807.8L634.4 808.3L630.4 808.8L626.4 809.3L622.4 809.9L618.5 810.4L614.5 810.9L610.5 811.4L606.5 811.9L602.5 812.5L598.5 813L594.6 813.5L590.6 814L586.6 814.5L582.6 815L578.6 815.5L574.6 816L570.7 816.5L566.7 817L562.7 817.5L558.7 818L554.7 818.4L550.7 818.9L546.7 819.4L542.7 819.8L538.8 820.3L534.8 820.7L530.8 821.2L526.8 821.6L522.8 822.1L518.8 822.5L514.8 823L510.8 823.4L506.8 823.8L502.8 824.3L498.8 824.7L494.8 825.1L490.8 825.5L486.8 826L482.9 826.4L478.9 826.8L474.9 827.2L470.9 827.7L466.9 828.1L462.9 828.5L458.9 828.9L454.9 829.4L450.9 829.8L446.9 830.2L442.9 830.7L438.9 831.1L434.9 831.5L430.9 832L426.9 832.4L423 832.8L419 833.3L415 833.7L411 834.2L407 834.6L403 835.1L399 835.5L395 836L391 836.5L387 836.9L383.1 837.4L379.1 837.9L375.1 838.3L371.1 838.8L367.1 839.3L363.1 839.8L359.1 840.3L355.1 840.8L351.2 841.3L347.2 841.8L343.2 842.3L339.2 842.8L335.2 843.3L331.2 843.8L327.3 844.3L323.3 844.9L319.3 845.4L315.3 845.9L311.3 846.4L307.3 847L303.4 847.4L299.4 847.9L295.4 848.3L291.4 848.7L287.4 849.1L283.4 849.3L279.4 849.6L275.3 849.7L271.3 849.8L267.3 849.8L263.3 849.8L259.3 849.6L255.3 849.3L251.3 848.9L247.3 848.4L243.3 847.8L239.4 847.1L235.5 846.2L231.6 845.2L227.7 844L224 842.6L220.3 841.1L216.6 839.3L213.1 837.4L209.7 835.2L206.5 832.8L203.5 830.2L200.6 827.4L197.9 824.4L195.4 821.3L193.2 818L191.2 814.5L189.4 810.9L188 807.1L186.9 803.2L186.3 799.3L186.2 795.3L186.6 791.3L187.4 787.3L188.6 783.5L190.2 779.8L192.1 776.3L194.3 772.9L196.7 769.7L199.3 766.7L202.2 763.9L205.4 761.4L208.7 759.2L212.2 757.2L215.8 755.4L219.5 753.9L223.3 752.6L227.2 751.5L231.1 750.6L235.1 750L239.1 749.5L243.1 749.2L247.1 749.1L251.1 749.2L255.1 749.5L259.1 749.8L263.1 750.4L267 751L271 751.8L274.9 752.6L278.8 753.5L282.7 754.5L286.6 755.6L290.5 756.7L294.3 757.8L298.2 759L302 760.2L305.8 761.4L309.6 762.7L313.4 764L317.2 765.4L321 766.7L324.7 768.1L328.5 769.5L332.3 770.9L336 772.3L339.8 773.8L343.5 775.2L347.2 776.7L351 778.2L354.7 779.7L358.4 781.2L362.2 782.7L365.9 784.2L369.6 785.7L373.3 787.2L377 788.7L380.8 790.3L384.5 791.8L388.2 793.3L391.9 794.8Z" fill="#231815"/>
<path d="M411.1 747L407.3 745.5L403.6 744L399.8 742.5L396.1 740.9L392.4 739.4L388.6 737.9L384.9 736.4L381.2 734.9L377.5 733.3L373.8 731.8L370.1 730.3L366.4 728.9L362.7 727.4L359 725.9L355.3 724.4L351.6 723L347.9 721.6L344.2 720.2L340.5 718.8L336.8 717.4L333.1 716.1L329.4 714.7L325.7 713.4L322 712.2L318.3 710.9L314.5 709.7L310.8 708.5L307.1 707.3L303.4 706.2L299.6 705.1L295.9 704.1L292.2 703.1L288.5 702.2L284.8 701.3L281.1 700.5L277.4 699.7L273.7 699.1L270 698.5L266.3 698L262.6 697.5L258.9 697.2L255.3 696.9L251.6 696.7L247.9 696.7L244.2 696.7L240.6 696.8L237 697L233.3 697.3L229.7 697.7L226.1 698.2L222.5 698.8L218.9 699.5L215.4 700.3L211.9 701.2L208.4 702.2L204.9 703.3L201.5 704.5L198.2 705.8L194.9 707.2L191.6 708.7L188.4 710.3L185.3 712L182.2 713.8L179.2 715.7L176.2 717.7L173.4 719.8L170.6 722L167.9 724.2L165.3 726.6L162.7 729.1L160.3 731.6L157.9 734.3L155.6 737L153.5 739.8L151.4 742.7L149.4 745.6L147.6 748.6L145.8 751.7L144.1 754.8L142.6 758L141.2 761.3L139.9 764.5L138.7 767.8L137.7 771.2L136.7 774.6L136 778L135.3 781.4L134.8 784.8L134.4 788.3L134.2 791.7L134.1 795.1L134.2 798.6L134.4 802L134.8 805.4L135.3 808.9L135.9 812.3L136.7 815.6L137.6 819L138.7 822.3L139.9 825.7L141.2 828.9L142.6 832.1L144.2 835.3L145.8 838.5L147.6 841.5L149.5 844.6L151.5 847.5L153.5 850.4L155.7 853.3L158 856L160.4 858.7L162.8 861.3L165.3 863.9L167.9 866.3L170.6 868.7L173.4 871L176.2 873.2L179.1 875.2L182.1 877.2L185.1 879.2L188.2 881L191.4 882.7L194.6 884.3L197.9 885.9L201.2 887.3L204.6 888.7L208 889.9L211.5 891.1L215 892.2L218.5 893.2L222.1 894.1L225.7 895L229.3 895.8L233 896.4L236.7 897L240.4 897.6L244.1 898L247.8 898.4L251.6 898.7L255.4 899L259.1 899.1L262.9 899.3L266.7 899.3L270.5 899.3L274.3 899.2L278.2 899.1L282 898.9L285.8 898.7L289.7 898.5L293.6 898.1L297.4 897.8L301.3 897.4L305.2 897L309.1 896.6L313 896.1L317 895.6L320.9 895.1L324.9 894.6L328.8 894.1L332.8 893.5L336.8 893L340.8 892.5L344.8 892L348.8 891.5L352.8 891L356.8 890.5L360.8 890L364.8 889.5L368.8 889.1L372.8 888.6L376.8 888.1L380.8 887.6L384.8 887.2L388.8 886.7L392.8 886.3L396.8 885.8L400.8 885.3L404.8 884.9L408.8 884.4L412.8 884L416.8 883.5L420.8 883.1L424.8 882.7L428.8 882.2L432.8 881.8L436.8 881.3L440.7 880.9L444.7 880.4L448.7 880L452.7 879.5L456.7 879.1L460.7 878.6L464.7 878.2L468.6 877.7L472.6 877.3L476.6 876.8L480.6 876.4L484.6 875.9L488.6 875.5L492.5 875L496.5 874.5L500.5 874.1L504.5 873.6L508.4 873.1L512.4 872.6L516.4 872.1L520.3 871.6L524.3 871.2L528.3 870.7L532.3 870.2L536.2 869.7L540.2 869.1L544.2 868.6L548.1 868.1L552.1 867.6L556 867L560 866.5L564 866L567.9 865.4L571.9 864.9L575.8 864.3L579.8 863.7L583.8 863.2L587.7 862.6L591.7 862L595.7 861.5L599.6 860.9L603.6 860.3L607.6 859.7L611.5 859.2L615.5 858.6L619.5 858L623.4 857.4L627.4 856.8L631.4 856.2L635.4 855.6L639.3 855.1L643.3 854.5L647.3 853.9L651.3 853.3L655.2 852.7L659.2 852.2L663.2 851.6L667.2 851L671.2 850.4L675.2 849.9L679.2 849.3L683.1 848.8L687.1 848.2L691.1 847.7L695.1 847.1L699.1 846.6L703.1 846L707.1 845.5L711.1 845L715.1 844.5L719.1 844L723.1 843.5L727.2 843L731.2 842.5L735.2 842L739.2 841.5L743.2 841.1L747.2 840.6L751.2 840.2L755.3 839.7L759.3 839.3L763.3 838.9L767.3 838.5L771.3 838L775.3 837.6L779.4 837.2L783.4 836.9L787.4 836.5L791.4 836.1L795.4 835.7L799.4 835.3L803.5 835L807.5 834.6L811.5 834.3L815.5 833.9L819.5 833.6L823.5 833.2L827.5 832.9L831.6 832.6L835.6 832.2L839.6 831.9L843.6 831.6L847.6 831.3L851.6 831L855.6 830.6L859.6 830.3L863.7 830L867.7 829.7L871.7 829.4L875.8 829.1L880 828.8L884.3 828.7L888.5 828.5L892.8 828.5L897 828.6L901.3 828.7L905.5 828.9L909.7 829.1L913.9 829.4L918.1 829.8L922.3 830.2L926.5 830.7L930.6 831.2L934.8 831.8L938.9 832.4L943 833.1L947.2 833.8L951.3 834.6L955.4 835.4L959.6 836.3L963.7 837.2L967.9 838.3L972 839.4L976.2 840.7L980.3 842L984.4 843.5L988.5 845L992.5 846.7L996.5 848.4L1000.4 850.3L1004.3 852.2L1008.1 854.2L1011.9 856.2L1015.6 858.4L1019.3 860.6L1022.9 862.8L1026.4 865.2L1029.9 867.5L1033.4 869.9L1036.7 872.2L1040.1 874.6L1043.3 877L1046.6 879.3L1049.8 881.6L1053 883.9L1056.2 886.1L1059.4 888.2L1062.6 890.3L1065.7 892.3L1068.9 894.3L1072.1 896.1L1075.4 897.9L1078.6 899.5L1082 901.1L1085.3 902.6L1088.7 904L1092.1 905.3L1095.5 906.5L1099 907.7L1102.5 908.7L1106 909.6L1109.6 910.4L1113.2 911.2L1116.8 911.8L1120.4 912.4L1124.1 912.8L1127.8 913.2L1131.6 913.6L1135.4 913.8L1139.3 914.1L1143.1 914.3L1147.1 914.4L1151 914.5L1155 914.6L1159 914.7L1162.9 914.8L1166.8 914.8L1170.7 914.9L1174.4 914.8L1178.1 914.7L1181.8 914.5L1185.4 914.1L1189.2 913.7L1192.9 913.3L1196.7 912.7L1200.6 912.1L1204.5 911.5L1208.5 910.9L1212.4 910.2L1216.4 909.6L1220.3 909L1224.2 908.3L1228.1 907.6L1231.9 906.9L1235.8 906.2L1239.5 905.5L1243.3 904.7L1247.1 903.8L1250.8 902.9L1254.5 902L1258.1 901L1261.8 899.9L1265.4 898.8L1269 897.6L1272.5 896.4L1276 895.1L1279.5 893.7L1282.9 892.2L1286.3 890.7L1289.6 889.1L1292.8 887.4L1296 885.7L1299.2 883.8L1302.2 881.9L1305.2 879.9L1308.1 877.8L1310.9 875.7L1313.7 873.4L1316.3 871.1L1318.8 868.6L1321.2 866.1L1323.4 863.5L1325.5 860.9L1327.5 858.2L1329.2 855.4L1330.8 852.6L1332.1 849.9L1333.1 847L1334 844.1L1334.7 841L1335.2 837.8L1335.6 834.5L1335.8 831.2L1335.8 828.2L1335.5 825.5L1335 823L1334.2 820.6L1333.1 818L1331.6 815.1L1329.8 812.1L1327.8 809L1325.8 806L1323.6 803.1L1321.4 800.2L1319.2 797.5L1316.8 794.8L1314.4 792.2L1311.8 789.7L1309.2 787.2L1306.5 784.7L1303.6 782.3L1300.7 779.9L1297.7 777.6L1294.7 775.3L1291.6 773L1288.5 770.8L1285.3 768.6L1282.1 766.5L1278.9 764.4L1275.7 762.4L1272.4 760.4L1269.1 758.4L1265.8 756.5L1262.5 754.7L1259.1 752.9L1255.7 751.1L1252.3 749.3L1248.8 747.6L1245.3 746L1241.8 744.4L1238.3 742.8L1234.7 741.2L1231.1 739.7L1227.5 738.2L1223.9 736.7L1220.2 735.3L1216.6 733.9L1212.9 732.5L1209.3 731.2L1205.7 729.9L1202 728.7L1198.4 727.6L1194.8 726.5L1191.2 725.5L1187.5 724.6L1183.9 723.7L1180.3 723L1176.7 722.3L1173.1 721.8L1169.4 721.3L1165.7 720.9L1162 720.6L1158.2 720.3L1154.4 720.1L1150.6 719.9L1146.7 719.9L1142.9 719.8L1138.9 719.8L1135 719.8L1131.2 719.9L1127.3 720L1123.4 720.2L1119.6 720.4L1115.8 720.6L1112 720.9L1108.2 721.3L1104.4 721.7L1100.7 722.2L1097 722.8L1093.3 723.5L1089.7 724.2L1086.1 725L1082.5 725.8L1079 726.8L1075.4 727.8L1071.9 729L1068.5 730.2L1064.9 731.6L1074.9 766.5L1079 764.8L1083.5 763.3L1088 762L1092.5 761L1096.9 760.1L1101.4 759.4L1105.8 758.9L1110.3 758.6L1114.7 758.4L1119 758.2L1123.4 758.2L1127.7 758.3L1131.9 758.4L1136.1 758.6L1140.3 758.8L1144.4 759.1L1148.5 759.4L1152.7 759.7L1156.8 760L1161 760.4L1165.2 760.8L1169.3 761.3L1173.5 761.9L1177.7 762.5L1181.8 763.2L1186 764L1190.2 764.9L1194.4 765.8L1198.5 766.9L1202.6 767.9L1206.7 769.1L1210.8 770.3L1214.8 771.6L1218.7 772.9L1222.7 774.2L1226.6 775.6L1230.5 777L1234.3 778.5L1238.2 780L1242.1 781.5L1245.9 783.1L1249.8 784.8L1253.6 786.5L1257.5 788.3L1261.3 790.2L1265.2 792.2L1269 794.3L1273 796.6L1277 799.1L1281.1 802L1285.2 805.4L1289.1 809.4L1292.6 814.1L1295.5 819.5L1297.6 825.5L1298.7 832.1L1298.4 839.1L1296.5 846.1L1293 852.3L1288.5 857.5L1283.1 861.6L1277.2 864.5L1271.4 866.1L1266.2 867L1261.7 867.4L1257.8 867.7L1254.4 868.1L1251.3 868.7L1248 869.5L1244.6 870.5L1241 871.6L1237.2 872.9L1233.3 874.2L1229.2 875.5L1224.9 876.7L1220.4 877.7L1215.8 878.6L1211.3 879.2L1206.8 879.7L1202.3 879.9L1197.9 880.1L1193.5 880.1L1189.1 880L1184.8 879.8L1180.6 879.6L1176.4 879.3L1172.2 878.9L1168 878.5L1163.8 878.1L1159.6 877.5L1155.4 877L1151.2 876.3L1147.1 875.6L1142.9 874.8L1138.7 874L1134.6 873.1L1130.5 872.1L1126.3 871L1122.2 869.8L1118.2 868.6L1114.1 867.3L1110.1 865.9L1106.1 864.5L1102.1 863L1098.1 861.4L1094.2 859.8L1090.3 858.1L1086.5 856.3L1082.6 854.5L1078.8 852.6L1075.1 850.7L1071.4 848.7L1067.7 846.7L1064.1 844.6L1060.5 842.6L1057 840.5L1053.5 838.4L1050 836.4L1046.6 834.3L1043.2 832.3L1039.8 830.4L1036.4 828.4L1033 826.6L1029.6 824.7L1026.2 822.9L1022.8 821.2L1019.3 819.4L1015.8 817.7L1012.3 816L1008.7 814.4L1005.2 812.7L1001.6 811.1L998 809.5L994.3 807.9L990.7 806.4L987.1 804.8L983.5 803.4L979.9 802L976.4 800.6L972.8 799.4L969.2 798.1L965.7 797L962.1 796L958.6 795L955 794.2L951.5 793.5L947.9 792.8L944.3 792.2L940.6 791.8L936.9 791.4L933.2 791.1L929.5 790.8L925.7 790.7L921.9 790.6L918.1 790.5L914.3 790.6L910.4 790.6L906.5 790.8L902.6 790.9L898.7 791.2L894.8 791.4L890.8 791.7L886.9 792L882.9 792.4L878.9 792.8L875 793.1L871 793.5L867 793.9L863 794.3L859 794.8L855.1 795.2L851.1 795.6L847.1 796L843.1 796.4L839.1 796.8L835.1 797.3L831.1 797.7L827.2 798.1L823.2 798.5L819.2 799L815.2 799.4L811.2 799.8L807.2 800.3L803.3 800.7L799.3 801.2L795.3 801.6L791.3 802.1L787.3 802.5L783.3 803L779.4 803.4L775.4 803.9L771.4 804.4L767.4 804.8L763.4 805.3L759.5 805.8L755.5 806.2L751.5 806.7L747.5 807.2L743.6 807.7L739.6 808.2L735.6 808.7L731.6 809.2L727.7 809.7L723.7 810.2L719.7 810.7L715.7 811.2L711.8 811.7L707.8 812.2L703.8 812.7L699.8 813.2L695.9 813.8L691.9 814.3L687.9 814.8L683.9 815.3L680 815.8L676 816.4L672 816.9L668 817.4L664 818L660.1 818.5L656.1 819L652.1 819.5L648.1 820.1L644.1 820.6L640.1 821.1L636.2 821.7L632.2 822.2L628.2 822.7L624.2 823.2L620.2 823.8L616.2 824.3L612.2 824.8L608.3 825.3L604.3 825.9L600.3 826.4L596.3 826.9L592.3 827.4L588.3 827.9L584.3 828.4L580.3 828.9L576.3 829.4L572.3 829.9L568.3 830.4L564.3 830.9L560.3 831.4L556.3 831.8L552.3 832.3L548.3 832.8L544.3 833.2L540.3 833.7L536.3 834.2L532.3 834.6L528.3 835.1L524.3 835.5L520.3 835.9L516.3 836.4L512.3 836.8L508.3 837.2L504.3 837.7L500.3 838.1L496.3 838.5L492.3 839L488.3 839.4L484.3 839.8L480.3 840.2L476.3 840.7L472.3 841.1L468.3 841.5L464.3 841.9L460.3 842.4L456.3 842.8L452.4 843.2L448.4 843.6L444.4 844.1L440.4 844.5L436.4 844.9L432.4 845.4L428.4 845.8L424.4 846.3L420.5 846.7L416.5 847.1L412.5 847.6L408.5 848L404.5 848.5L400.5 848.9L396.6 849.4L392.6 849.9L388.6 850.3L384.6 850.8L380.7 851.3L376.7 851.7L372.7 852.2L368.7 852.7L364.8 853.2L360.8 853.7L356.8 854.2L352.8 854.7L348.9 855.2L344.9 855.7L340.9 856.2L337 856.7L333 857.2L329 857.7L325.1 858.2L321.1 858.8L317.1 859.3L313.1 859.8L309 860.4L304.9 860.8L300.9 861.3L296.7 861.8L292.6 862.2L288.4 862.5L284.2 862.8L280 863.1L275.8 863.2L271.5 863.3L267.2 863.3L262.9 863.3L258.5 863.1L254.2 862.8L249.8 862.4L245.4 861.8L241 861.1L236.6 860.3L232.2 859.3L227.8 858.1L223.5 856.8L219.1 855.2L214.7 853.4L210.4 851.3L206.2 849L202.1 846.3L198.1 843.4L194.4 840.2L190.8 836.8L187.5 833.1L184.5 829.2L181.7 825.1L179.2 820.8L177 816.2L175.2 811.3L173.7 806.1L172.9 800.6L172.7 794.8L173.2 789.2L174.4 783.8L176 778.8L178 774L180.4 769.5L183.2 765.2L186.2 761.1L189.6 757.3L193.4 753.8L197.4 750.5L201.6 747.7L205.9 745.2L210.3 743.1L214.8 741.2L219.3 739.7L223.9 738.4L228.5 737.4L233.2 736.6L237.8 736.1L242.4 735.7L247.1 735.6L251.6 735.7L256.2 736L260.6 736.4L265 737L269.4 737.7L273.7 738.5L277.9 739.4L282 740.4L286.2 741.5L290.2 742.6L294.2 743.7L298.2 744.9L302.2 746.1L306.1 747.3L310 748.6L313.9 749.9L317.8 751.3L321.7 752.6L325.6 754L329.4 755.4L333.2 756.8L337.1 758.3L340.9 759.7L344.7 761.2L348.4 762.7L352.2 764.2L356 765.7L359.7 767.2L363.5 768.7L367.2 770.2L371 771.7L374.7 773.2L378.4 774.7L382.1 776.2L385.8 777.8L389.5 779.3L393.3 780.8L397 782.3Z" fill="#fff"/>
<path d="M1139.2 706.3L1135.3 706.4L1131.4 706.5L1127.5 706.6L1123.5 706.8L1119.4 707L1115.3 707.3L1111.3 707.6L1107.1 708L1103 708.4L1098.9 708.9L1094.8 709.5L1090.7 710.2L1086.7 711L1082.6 711.8L1078.6 712.8L1074.7 713.9L1070.8 715L1066.9 716.4L1063.2 717.8L1059.5 719.4L1055.8 721.1L1052.3 722.9L1048.9 724.9L1045.5 727.1L1042.2 729.4L1039 731.8L1035.9 734.4L1032.8 737.1L1029.8 739.9L1026.9 742.8L1023.9 745.8L1021 748.9L1018.2 752.1L1015.5 755.4L1012.9 758.8L1010.6 762.3L1008.5 765.9L1006.8 769.5L1005.5 773.3L1004.6 777.1L1004.2 781.1L1004.4 785.1L1004.9 789.1L1005.9 793.1L1007.1 797.1L1008.5 800.9L1010.2 804.7L1012.1 808.2L1014.2 811.6L1016.7 814.8L1019.4 817.8L1022.3 820.7L1025.3 823.4L1028.3 826.2L1031.3 828.9L1034.3 831.7L1037.3 834.5L1040.2 837.3L1043.2 840L1046.1 842.8L1049.1 845.5L1052.2 848.1L1055.4 850.6L1058.6 853L1061.9 855.4L1065.2 857.7L1068.7 859.8L1072.1 861.9L1075.7 864L1079.3 865.9L1082.9 867.8L1086.5 869.6L1090.2 871.3L1094 873L1097.7 874.6L1101.5 876.1L1105.3 877.6L1109.1 878.9L1113 880.3L1116.9 881.5L1120.8 882.6L1124.7 883.7L1128.6 884.7L1132.6 885.6L1136.5 886.5L1140.5 887.2L1144.5 887.9L1148.5 888.5L1152.6 889L1156.6 889.4L1160.6 889.7L1164.7 889.9L1168.7 890.1L1172.8 890.2L1176.9 890.2L1180.9 890.2L1185 890.1L1189 889.9L1193.1 889.7L1197.1 889.4L1201.2 889.1L1205.2 888.7L1209.2 888.2L1213.2 887.7L1217.3 887.2L1221.3 886.6L1225.3 886L1229.3 885.3L1233.2 884.6L1237.2 883.8L1241.2 883L1242.6 881.4L1243.9 879.7L1245.1 878L1246.3 876.3L1247.5 874.5L1248.5 872.7L1249.5 870.9L1250.5 869L1251.4 867L1252.2 865.1L1252.9 863L1253.5 861L1254 858.9L1254.3 856.8L1254.5 854.8L1254.4 852.6L1254.2 850.5L1253.8 848.5L1253.3 846.4L1252.6 844.4L1251.7 842.4L1250.8 840.5L1249.8 838.6L1248.6 836.9L1247.4 835.1L1246.1 833.5L1244.7 831.9L1243.2 830.4L1241.6 829L1240 827.6L1238.3 826.3L1236.6 825.1L1234.8 824L1232.9 823L1228.9 823.3L1224.8 823.6L1220.8 824L1216.7 824.5L1212.7 824.9L1208.6 825.4L1204.5 825.9L1200.5 826.4L1196.4 826.9L1192.3 827.4L1188.2 827.8L1184.1 828.2L1180 828.5L1176 828.8L1171.9 828.9L1167.8 829L1163.8 829L1159.7 828.8L1155.7 828.5L1151.6 828.1L1147.6 827.5L1143.6 826.8L1139.6 826L1135.6 825L1131.7 823.9L1127.7 822.8L1123.8 821.5L1119.9 820.1L1116 818.5L1112.1 816.9L1108.3 815.2L1104.6 813.3L1101 811.3L1097.6 809.2L1094.3 807L1091.1 804.7L1088.2 802.2L1085.3 799.5L1082.4 796.5L1079.3 793.2L1076.3 789.6L1074.6 786.1L1075.2 782.9L1078 780.3L1082.2 778.1L1086.7 776.4L1091 775.1L1095.1 774.1L1099 773.5L1102.7 773.1L1106.4 773L1110.1 772.9L1113.8 773L1117.5 773.1L1121.4 773.2L1125.5 773.2L1129.8 773.1L1134.3 772.8L1139.2 772.3Z" fill="#231815"/>
<path d="M1141.5 719.7L1139.5 719.8L1135.7 719.9L1131.9 720L1128 720.1L1124.1 720.3L1120.2 720.5L1116.3 720.8L1112.4 721.1L1108.5 721.4L1104.6 721.8L1100.7 722.3L1096.9 722.9L1093.1 723.5L1089.3 724.2L1085.6 725L1082 725.9L1078.4 726.8L1074.9 727.9L1071.5 729.1L1068.2 730.3L1065 731.7L1061.9 733.2L1058.9 734.7L1055.9 736.5L1053 738.3L1050.2 740.3L1047.4 742.4L1044.6 744.7L1041.9 747.1L1039.1 749.6L1036.4 752.3L1033.7 755.1L1031 757.9L1028.5 760.9L1026.1 763.7L1023.9 766.6L1022.1 769.4L1020.5 772.1L1019.3 774.6L1018.5 777L1017.9 779.3L1017.7 781.5L1017.8 783.9L1018.2 786.6L1018.9 789.6L1019.9 792.7L1021 795.8L1022.3 798.8L1023.7 801.4L1025.3 803.9L1027.1 806.2L1029.2 808.5L1031.6 810.9L1034.4 813.5L1037.3 816.2L1040.5 819L1043.5 821.8L1046.5 824.7L1049.5 827.5L1052.4 830.2L1055.2 832.8L1058 835.3L1060.8 837.7L1063.7 840L1066.6 842.2L1069.6 844.3L1072.6 846.4L1075.8 848.4L1079 850.3L1082.3 852.2L1085.6 854L1089 855.7L1092.4 857.4L1095.8 859L1099.4 860.6L1102.9 862.1L1106.4 863.5L1110 864.9L1113.6 866.2L1117.2 867.4L1120.8 868.6L1124.5 869.7L1128.1 870.7L1131.8 871.6L1135.5 872.5L1139.2 873.2L1142.9 873.9L1146.6 874.6L1150.3 875.1L1154.1 875.6L1157.8 875.9L1161.6 876.2L1165.4 876.5L1169.2 876.6L1173 876.7L1176.8 876.7L1180.7 876.7L1184.5 876.6L1188.4 876.4L1192.2 876.2L1196.1 875.9L1199.9 875.6L1203.8 875.2L1207.7 874.8L1211.5 874.3L1215.4 873.8L1219.2 873.3L1223.1 872.6L1226.9 872L1230.8 871.3L1234.6 870.6L1235.6 870.7L1232.1 872.8L1233.1 871.5L1234.1 870.2L1235.1 868.8L1236 867.4L1236.8 866L1237.6 864.6L1238.3 863.1L1239 861.6L1239.6 860.2L1240.1 858.8L1240.5 857.5L1240.8 856.4L1240.9 855.3L1241 854.4L1241 853.5L1240.9 852.6L1240.7 851.5L1240.4 850.4L1239.9 849.2L1239.4 848L1238.8 846.7L1238.2 845.6L1237.4 844.4L1236.6 843.3L1235.8 842.2L1234.8 841.1L1233.8 840.1L1232.7 839.1L1231.6 838.2L1230.4 837.3L1229.2 836.5L1228 835.7L1231.2 836.4L1229.9 836.7L1226.1 837.1L1222.2 837.4L1218.3 837.9L1214.3 838.3L1210.3 838.8L1206.2 839.3L1202.1 839.8L1197.9 840.3L1193.8 840.8L1189.5 841.3L1185.3 841.7L1181 842L1176.6 842.3L1172.2 842.4L1167.8 842.5L1163.4 842.5L1158.9 842.3L1154.4 841.9L1150 841.4L1145.5 840.8L1141.1 840L1136.7 839.1L1132.3 838.1L1128 836.9L1123.7 835.6L1119.4 834.2L1115.1 832.7L1110.9 831L1106.7 829.3L1102.5 827.3L1098.4 825.3L1094.3 823L1090.3 820.6L1086.4 818L1082.7 815.2L1079.2 812.3L1075.9 809.2L1072.6 805.9L1069.1 802.1L1065.1 797.1L1061.3 788.4L1063.5 776.1L1070.4 769.1L1076.7 765.8L1082.3 763.6L1087.5 762.1L1092.4 760.9L1097.2 760.1L1101.7 759.7L1106 759.5L1110.1 759.4L1114.1 759.5L1117.9 759.6L1121.6 759.7L1125.4 759.7L1129.2 759.6L1133.2 759.4L1137.8 758.9L1139.8 758.7Z" fill="#fff"/>
<path d="M389 793.6L390.7 794.2L392.4 794.8L394.1 795.5L395.8 796.1L397.6 796.7L399.3 797.3L401 798L402.7 798.6L404.4 799.3L406.1 799.9L407.8 800.6L409.5 801.2L411.2 801.9L412.9 802.5L414.6 803.2L416.3 803.8L418 804.5L419.7 805.1L421.5 805.8L423.2 806.5L424.9 807.1L426.6 807.8L428.3 808.5L430 809.1L431.7 809.8L433.4 810.5L435.1 811.2L436.8 811.9L438.5 812.5L440.3 813.2L442 813.9L443.7 814.6L445.4 815.3L447.1 816L448.8 816.7L450.5 817.3L452.2 818L454 818.7L455.7 819.4L457.4 820.1L459.1 820.8L460.8 821.5L462.5 822.2L464.2 822.9L466 823.6L467.7 824.3L469.4 825L471.1 825.8L472.8 826.5L474.5 827.2L476.3 827.9L478 828.6L479.7 829.3L481.4 830L483.2 830.7L484.9 831.4L486.6 832.1L488.3 832.9L490 833.6L491.8 834.3L493.5 835L495.2 835.7L497 836.4L498.7 837.2L500.4 837.9L502.1 838.6L503.9 839.3L505.6 840L507.3 840.8L509.1 841.5L510.8 842.2L512.5 842.9L514.3 843.6L516 844.3L517.7 845.1L519.5 845.8L521.2 846.5L523 847.2L524.7 847.9L526.4 848.7L528.2 849.4L529.9 850.1L531.7 850.8L533.4 851.5L535.2 852.2L536.9 853L538.7 853.7L540.4 854.4L542.2 855.1L543.9 855.8L545.7 856.5L547.4 857.2L549.1 857.9L550.9 858.7L552.6 859.4L554.4 860.1L556.1 860.8L557.8 861.5L559.6 862.2L561.3 862.9L563 863.6L564.7 864.3L566.5 865L568.2 865.7L569.9 866.4L571.6 867.1L573.3 867.8L575.1 868.5L576.8 869.2L578.5 869.8L580.2 870.5L581.9 871.2L583.6 871.9L585.3 872.6L587 873.3L588.7 874L590.4 874.7L592.1 875.4L593.8 876.1L595.5 876.8L597.2 877.5L598.9 878.2L600.5 878.9L602.2 879.6L603.9 880.3L605.6 881L607.3 881.7L608.9 882.4L610.6 883.1L612.3 883.8L613.9 884.5L615.6 885.2L617.3 886L618.9 886.7L620.6 887.4L622.3 888.1L624 888.8L625.7 889.6L627.4 890.3L629.2 891L630.9 891.8L632.6 892.5L634.4 893.2L636.1 894L637.9 894.7L639.6 895.5L641.4 896.2L643.2 896.9L645 897.7L646.8 898.4L648.6 899.1L650.4 899.8L652.2 900.6L654.1 901.3L655.9 902L657.7 902.7L659.6 903.4L661.5 904.1L663.4 904.8L665.2 905.5L667.1 906.1L669.1 906.8L671 907.5L672.9 908.1L674.8 908.8L676.8 909.4L678.8 910L680.7 910.6L682.7 911.2L684.7 911.8L686.7 912.3L688.7 912.9L690.7 913.4L692.7 914L694.7 914.5L696.8 915L698.8 915.4L700.8 915.9L702.8 916.3L704.8 916.8L706.8 917.2L708.8 917.6L710.8 918L712.8 918.4L714.8 918.8L716.8 919.1L718.8 919.5L720.8 919.9L722.8 920.2L724.8 920.5L726.8 920.8L728.8 921.2L730.8 921.5L732.8 921.8L734.7 922L736.7 922.3L738.7 922.6L740.7 922.9L742.6 923.2L751.4 866.8L749.7 866.5L747.9 866.2L746.2 865.9L744.5 865.5L742.8 865.2L741.1 864.8L739.4 864.4L737.7 864.1L736.1 863.7L734.4 863.2L732.7 862.8L731.1 862.4L729.4 862L727.7 861.5L726.1 861.1L724.5 860.6L722.8 860.1L721.2 859.6L719.6 859.1L718 858.6L716.4 858.1L714.8 857.6L713.2 857.1L711.6 856.5L710 856L708.5 855.4L706.9 854.8L705.4 854.3L703.8 853.7L702.3 853.1L700.7 852.5L699.2 851.9L697.6 851.2L696 850.6L694.5 849.9L692.9 849.3L691.3 848.6L689.8 847.9L688.2 847.3L686.6 846.6L685 845.9L683.4 845.1L681.8 844.4L680.2 843.7L678.6 843L677 842.2L675.4 841.5L673.8 840.7L672.2 840L670.5 839.2L668.9 838.4L667.2 837.7L665.6 836.9L663.9 836.1L662.3 835.3L660.6 834.5L658.9 833.7L657.2 832.9L655.5 832.1L653.8 831.3L652.1 830.5L650.4 829.7L648.7 828.9L647 828.1L645.2 827.3L643.5 826.5L641.7 825.7L640 825L638.2 824.2L636.4 823.4L634.7 822.6L632.9 821.8L631.2 821.1L629.4 820.3L627.6 819.5L625.9 818.8L624.1 818L622.3 817.3L620.6 816.5L618.8 815.8L617.1 815.1L615.3 814.3L613.5 813.6L611.8 812.9L610 812.2L608.3 811.5L606.5 810.7L604.8 810L603 809.3L601.3 808.6L599.5 807.9L597.7 807.2L596 806.5L594.3 805.8L592.5 805.1L590.8 804.4L589 803.7L587.3 803L585.5 802.4L583.8 801.7L582.1 801L580.3 800.3L578.6 799.6L576.9 798.9L575.1 798.2L573.4 797.5L571.7 796.9L569.9 796.2L568.2 795.5L566.5 794.8L564.8 794.1L563.1 793.4L561.4 792.7L559.6 792.1L557.9 791.4L556.2 790.7L554.5 790L552.8 789.3L551.1 788.6L549.4 787.9L547.6 787.2L545.9 786.5L544.2 785.8L542.5 785.1L540.8 784.4L539.1 783.6L537.3 782.9L535.6 782.2L533.9 781.5L532.2 780.8L530.5 780.1L528.8 779.4L527 778.7L525.3 777.9L523.6 777.2L521.9 776.5L520.1 775.8L518.4 775.1L516.7 774.4L515 773.6L513.2 772.9L511.5 772.2L509.8 771.5L508.1 770.8L506.3 770L504.6 769.3L502.9 768.6L501.1 767.9L499.4 767.2L497.7 766.4L495.9 765.7L494.2 765L492.4 764.3L490.7 763.5L489 762.8L487.2 762.1L485.5 761.4L483.7 760.7L482 760L480.2 759.2L478.5 758.5L476.8 757.8L475 757.1L473.3 756.4L471.5 755.7L469.7 755L468 754.2L466.2 753.5L464.5 752.8L462.7 752.1L461 751.4L459.2 750.7L457.4 750L455.7 749.3L453.9 748.6L452.1 747.9L450.4 747.2L448.6 746.5L446.8 745.8L445 745.1L443.3 744.4L441.5 743.8L439.7 743.1L437.9 742.4L436.1 741.7L434.4 741L432.6 740.3L430.8 739.7L429 739L427.2 738.3L425.4 737.7L423.6 737L421.8 736.3L420 735.7L418.2 735L416.4 734.4L414.6 733.7L412.8 733.1L411 732.4Z" fill="#231815"/>
<path d="M391.7 780.2L393.6 780.9L395.3 781.5L397 782.1L398.8 782.8L400.5 783.4L402.2 784L403.9 784.7L405.7 785.3L407.4 786L409.1 786.6L410.8 787.3L412.6 787.9L414.3 788.6L416 789.2L417.7 789.9L419.5 790.6L421.2 791.2L422.9 791.9L424.6 792.5L426.3 793.2L428.1 793.9L429.8 794.6L431.5 795.2L433.2 795.9L435 796.6L436.7 797.3L438.4 797.9L440.1 798.6L441.8 799.3L443.6 800L445.3 800.7L447 801.4L448.7 802.1L450.4 802.8L452.2 803.4L453.9 804.1L455.6 804.8L457.3 805.5L459 806.2L460.8 806.9L462.5 807.6L464.2 808.3L465.9 809L467.7 809.7L469.4 810.4L471.1 811.2L472.8 811.9L474.5 812.6L476.3 813.3L478 814L479.7 814.7L481.4 815.4L483.2 816.1L484.9 816.8L486.6 817.5L488.3 818.3L490.1 819L491.8 819.7L493.5 820.4L495.2 821.1L497 821.8L498.7 822.5L500.4 823.3L502.1 824L503.9 824.7L505.6 825.4L507.3 826.1L509 826.8L510.8 827.6L512.5 828.3L514.2 829L516 829.7L517.7 830.4L519.4 831.2L521.2 831.9L522.9 832.6L524.6 833.3L526.4 834L528.1 834.7L529.8 835.5L531.6 836.2L533.3 836.9L535 837.6L536.8 838.3L538.5 839L540.3 839.7L542 840.5L543.7 841.2L545.5 841.9L547.2 842.6L549 843.3L550.7 844L552.4 844.7L554.2 845.4L555.9 846.1L557.6 846.8L559.4 847.5L561.1 848.2L562.8 848.9L564.6 849.6L566.3 850.3L568 851L569.8 851.7L571.5 852.4L573.2 853.1L574.9 853.8L576.7 854.5L578.4 855.2L580.1 855.9L581.8 856.6L583.5 857.3L585.3 858L587 858.7L588.7 859.4L590.4 860.1L592.1 860.8L593.8 861.5L595.5 862.2L597.3 862.9L599 863.6L600.7 864.4L602.4 865.1L604.1 865.8L605.8 866.5L607.5 867.2L609.2 867.9L610.9 868.6L612.6 869.3L614.3 870L616 870.7L617.6 871.4L619.3 872.2L621 872.9L622.7 873.6L624.4 874.3L626.1 875.1L627.8 875.8L629.5 876.5L631.2 877.2L633 878L634.7 878.7L636.4 879.4L638.1 880.2L639.9 880.9L641.6 881.6L643.3 882.4L645.1 883.1L646.9 883.8L648.6 884.6L650.4 885.3L652.2 886L653.9 886.7L655.7 887.4L657.5 888.1L659.3 888.8L661.1 889.5L662.9 890.2L664.7 890.9L666.5 891.6L668.4 892.2L670.2 892.9L672 893.6L673.9 894.2L675.7 894.8L677.6 895.5L679.5 896.1L681.3 896.7L683.2 897.3L685.1 897.8L687 898.4L688.9 899L690.8 899.5L692.8 900L694.7 900.5L696.6 901L698.5 901.5L700.4 902L702.4 902.4L704.3 902.9L706.2 903.3L708.1 903.7L710.1 904.1L712 904.5L713.9 904.9L715.9 905.3L717.8 905.6L719.7 906L721.7 906.3L723.6 906.6L725.5 907L727.4 907.3L729.4 907.6L731.3 907.9L733.2 908.2L735.1 908.5L737 908.7L739 909L740.9 909.3L742.8 909.6L744.7 909.8L746.6 910.1L751.3 880.5L749.3 880.2L747.5 879.9L745.8 879.5L744 879.2L742.2 878.8L740.5 878.5L738.7 878.1L736.9 877.7L735.2 877.3L733.4 876.9L731.7 876.5L730 876L728.2 875.6L726.5 875.2L724.8 874.7L723.1 874.2L721.3 873.7L719.6 873.2L717.9 872.7L716.2 872.2L714.5 871.7L712.9 871.2L711.2 870.6L709.5 870.1L707.8 869.5L706.2 868.9L704.5 868.3L702.9 867.7L701.2 867.1L699.6 866.5L698 865.9L696.3 865.2L694.7 864.6L693.1 863.9L691.4 863.3L689.8 862.6L688.1 861.9L686.5 861.2L684.9 860.5L683.2 859.8L681.6 859.1L680 858.4L678.3 857.6L676.7 856.9L675 856.2L673.4 855.4L671.7 854.6L670.1 853.9L668.4 853.1L666.8 852.3L665.1 851.6L663.5 850.8L661.8 850L660.1 849.2L658.4 848.4L656.8 847.6L655.1 846.8L653.4 846L651.7 845.3L650 844.5L648.3 843.7L646.6 842.9L644.9 842.1L643.2 841.3L641.5 840.5L639.8 839.7L638 838.9L636.3 838.1L634.6 837.3L632.8 836.5L631.1 835.8L629.3 835L627.6 834.2L625.9 833.5L624.1 832.7L622.4 832L620.6 831.2L618.9 830.5L617.1 829.7L615.4 829L613.6 828.3L611.9 827.5L610.2 826.8L608.4 826.1L606.7 825.4L604.9 824.7L603.2 824L601.4 823.2L599.7 822.5L597.9 821.8L596.2 821.1L594.4 820.4L592.7 819.7L591 819L589.2 818.3L587.5 817.6L585.7 817L584 816.3L582.3 815.6L580.5 814.9L578.8 814.2L577 813.5L575.3 812.8L573.6 812.1L571.8 811.4L570.1 810.8L568.4 810.1L566.6 809.4L564.9 808.7L563.2 808L561.5 807.3L559.7 806.6L558 805.9L556.3 805.2L554.6 804.6L552.8 803.9L551.1 803.2L549.4 802.5L547.7 801.8L546 801.1L544.2 800.4L542.5 799.7L540.8 799L539.1 798.2L537.4 797.5L535.6 796.8L533.9 796.1L532.2 795.4L530.5 794.7L528.7 794L527 793.3L525.3 792.6L523.6 791.8L521.9 791.1L520.1 790.4L518.4 789.7L516.7 789L515 788.3L513.2 787.5L511.5 786.8L509.8 786.1L508.1 785.4L506.3 784.7L504.6 783.9L502.9 783.2L501.1 782.5L499.4 781.8L497.7 781.1L496 780.3L494.2 779.6L492.5 778.9L490.8 778.2L489 777.5L487.3 776.8L485.6 776L483.8 775.3L482.1 774.6L480.4 773.9L478.6 773.2L476.9 772.5L475.1 771.7L473.4 771L471.7 770.3L469.9 769.6L468.2 768.9L466.4 768.2L464.7 767.5L462.9 766.8L461.2 766.1L459.5 765.4L457.7 764.7L456 764L454.2 763.3L452.5 762.6L450.7 761.9L448.9 761.2L447.2 760.5L445.4 759.8L443.7 759.1L441.9 758.4L440.2 757.7L438.4 757L436.6 756.3L434.9 755.7L433.1 755L431.3 754.3L429.6 753.6L427.8 753L426 752.3L424.2 751.6L422.5 751L420.7 750.3L418.9 749.7L417.1 749L415.4 748.3L413.6 747.7L411.8 747L410 746.4L408.2 745.8L406.4 745.1L404.6 744.4Z" fill="#fff"/>
<path d="M700 852 L785 846 L770 868 L748 872 L715 864Z" fill="#231815"/><path d="M727 858.5 Q744 857 761 857.5 Q745 867.5 727 858.5Z" fill="#cbcdcd"/>
</g>
<defs>
<linearGradient id="gHead" gradientUnits="userSpaceOnUse" x1="1540" y1="520" x2="1560" y2="640">
<stop offset="0" stop-color="#fff"/><stop offset="0.35" stop-color="#fff"/><stop offset="1" stop-color="#8e8f90"/></linearGradient>
<linearGradient id="gLens" gradientUnits="userSpaceOnUse" x1="1400" y1="650" x2="1650" y2="660">
<stop offset="0" stop-color="#b4b5b5"/><stop offset="0.5" stop-color="#5e5a59"/><stop offset="1" stop-color="#231815"/></linearGradient>
</defs>
<path d="M501.3 384.5 L1214 451 L1213 460.4 L500.7 391.5 Z" fill="#231815"/><circle cx="501.5" cy="388" r="3.5" fill="#231815"/>
<path d="M1641 505.6 C1660 490 1690 476 1722.6 466 C1760 455 1810 445 1854.4 442.3 L2000 439 L2219 437 L2348 379 C2390 364 2420 361 2440 362 C2470 364 2484 375 2480 390 C2476 415 2465 435 2453.5 447.6 C2425 470 2390 482 2348 489.8 C2310 497 2270 500 2240 503 L1907 609 C1860 622 1815 632 1775 640 C1735 647 1700 651 1667.3 653.2 Z" fill="#c9caca"/>
<path d="M1656 527 C1700 512 1760 497 1840 487 C1920 478 2050 474 2225 466 L2362 404 C2400 390 2440 383 2462 388 C2430 392 2390 404 2350 424 L2236 480 C2150 487 2000 492 1880 502 C1800 510 1740 530 1712 560 C1695 580 1688 610 1678 632 Z" fill="#fff"/>
<path d="M1641 505.6 C1660 490 1690 476 1722.6 466 C1760 455 1810 445 1854.4 442.3 L2000 439 L2219 437 L2348 379 C2390 364 2420 361 2440 362 C2470 364 2484 375 2480 390 C2476 415 2465 435 2453.5 447.6 C2425 470 2390 482 2348 489.8 C2310 497 2270 500 2240 503 L1907 609 C1860 622 1815 632 1775 640 C1735 647 1700 651 1667.3 653.2 Z" fill="none" stroke="#231815" stroke-width="7.5" stroke-linejoin="round"/>
<path d="M1390.5 644 C1400 628 1415 612 1431 600 C1460 578 1500 553 1533 537.5 C1550 530 1565 524 1580.7 519 L1618 509 L1641 505.6 L1667.3 653 C1640 662 1605 666 1565 668 C1520 670 1470 669 1440 665 C1415 661 1398 655 1390.5 644 Z" fill="url(#gHead)"/>
<path d="M1398 647 L1646 597.5 C1652 600 1655 606 1656 612 L1664 652 C1640 661 1600 666 1560 667 C1500 669 1440 667 1415 660 Z" fill="#231815"/>
<path d="M1398 648.5 C1450 640 1500 633 1540 632 C1590 632 1630 640 1652 652 C1630 660 1590 664.5 1550 665.5 C1500 667 1440 665 1418 659 C1408 656 1400 652 1398 648.5 Z" fill="url(#gLens)"/>
<path d="M1397 645.5 L1645 592 L1651 598 L1399 648 Z" fill="#fff"/>
<path d="M1641 505.6 L1618 509 L1580.7 519 C1565 524 1550 530 1533 537.5 C1500 553 1460 578 1431 600 C1415 612 1400 628 1391 645" fill="none" stroke="#231815" stroke-width="5" stroke-linecap="round"/>
<path d="M1391 645 C1398 656 1415 662 1440 666 C1470 670 1520 671 1565 669 C1605 667 1640 663 1667 654" fill="none" stroke="#231815" stroke-width="5.5" stroke-linecap="round"/>
<path d="M1641 505.6 L1667.3 653.2" fill="none" stroke="#231815" stroke-width="8" stroke-linecap="round"/>
<path d="M1979.5 441 C1982.5 425 1982.5 412 1981.7 400 C1980.5 385 1978 372 1974 360 C1968 343 1960 331 1950 322.5 C1944 317 1938 313.5 1930 313 C1920 313 1910 317 1900 321 C1875 330 1848 340 1820 347.5 C1848 345 1868 341 1886 335 L1906 343.5 L1895 332.5 C1912 328 1925 326 1934 327.5 C1942 329 1948 336 1953 344 C1960 357 1964 372 1966 388 C1967.5 402 1967 420 1963 441 Z" fill="#231815"/>
<path d="M1577 526.5 L1556 500.5 A24 24 0 1 1 1567.5 504.4" fill="none" stroke="#231815" stroke-width="13.3" stroke-linecap="butt"/><circle cx="1577" cy="526.5" r="6.8" fill="#231815"/>
<use href="#snap" transform="translate(1239.3 463.5) rotate(181.5) scale(0.2657) translate(-1349 -824)"/>
<path d="M1547.3 477.5 A24 24 0 0 1 1569 456.7" fill="none" stroke="#231815" stroke-width="13.3"/>
<path d="M1212.5 466 L1218 446.5" stroke="#231815" stroke-width="10.4" stroke-linecap="round" fill="none"/><path d="M1222.1 466 L1227.6 446.5" stroke="#231815" stroke-width="10.4" stroke-linecap="round" fill="none"/><path d="M1231.7 466 L1237.2 446.5" stroke="#231815" stroke-width="10.4" stroke-linecap="round" fill="none"/>
<path d="M1211 453 L1197.5 433" stroke="#231815" stroke-width="9.4" stroke-linecap="round" fill="none"/>
<path d="M1236 458.3 L1252 459.6" stroke="#231815" stroke-width="9" stroke-linecap="butt" fill="none"/>
<text x="2163" y="615.5" font-family='"Liberation Sans", "Noto Sans CJK JP", sans-serif' font-weight="900" font-size="72.5" fill="#231815" stroke="#231815" stroke-width="3.2" stroke-linejoin="round" textLength="266" lengthAdjust="spacingAndGlyphs">セット例</text>
<rect x="93" y="1174.5" width="1170.5" height="282" fill="none" stroke="#898989" stroke-width="6.5" stroke-dasharray="16 14.6"/>
<g font-family='"Liberation Sans", "Noto Sans CJK JP", sans-serif' fill="#231815">
<text x="90" y="485.2" font-size="64" font-weight="500" textLength="912.7" lengthAdjust="spacing">不意にルアーが外れないための</text>
<text x="92.4" y="564.2" font-size="64" font-weight="500" textLength="752" lengthAdjust="spacing">ストッパーとなるベンド。</text>
<text x="92.4" y="646.2" font-size="64" font-weight="500" textLength="585.5" lengthAdjust="spacing">同時に強度も確保！</text>
<text x="1460.8" y="773.6" font-size="64" font-weight="500" textLength="1021.3" lengthAdjust="spacing">変型しにくいタマゴ型アイを採用。</text>
<text x="1466.1" y="851.2" font-size="64" font-weight="500" textLength="962.1" lengthAdjust="spacing">シーム部を重ねることでライン抜</text>
<text x="1466.1" y="931.6" font-size="64" font-weight="500" textLength="313.2" lengthAdjust="spacing">けを防止！</text>
<text x="1501" y="1089.7" font-size="64" font-weight="500" textLength="836.4" lengthAdjust="spacing">ワイヤー径を細くし軽量化。</text>
<text x="1498.4" y="1170.2" font-size="64" font-weight="500" textLength="955.9" lengthAdjust="spacing">ルアー本来の動きを損なわない！</text>
<text x="106.2" y="1012.2" font-size="64" font-weight="500" textLength="639.7" lengthAdjust="spacing">クリップ方式を採用。</text>
<text x="106.2" y="1091.2" font-size="64" font-weight="500" textLength="1186.1" lengthAdjust="spacing">ジグヘッドローテーションがワンタッチ！</text>
<text x="130.4" y="1260.2" font-size="64" font-weight="500" textLength="1083.8" lengthAdjust="spacing">メタルジグ等の使用においては、通常の</text>
<text x="130.4" y="1341.7" font-size="64" font-weight="500" textLength="961" lengthAdjust="spacing">フック式スナップをご使用下さい。</text>
<text x="130.4" y="1420.2" font-size="64" font-weight="500" textLength="667" lengthAdjust="spacing">外れる恐れがあります。</text>
</g>
</svg></body></html>
